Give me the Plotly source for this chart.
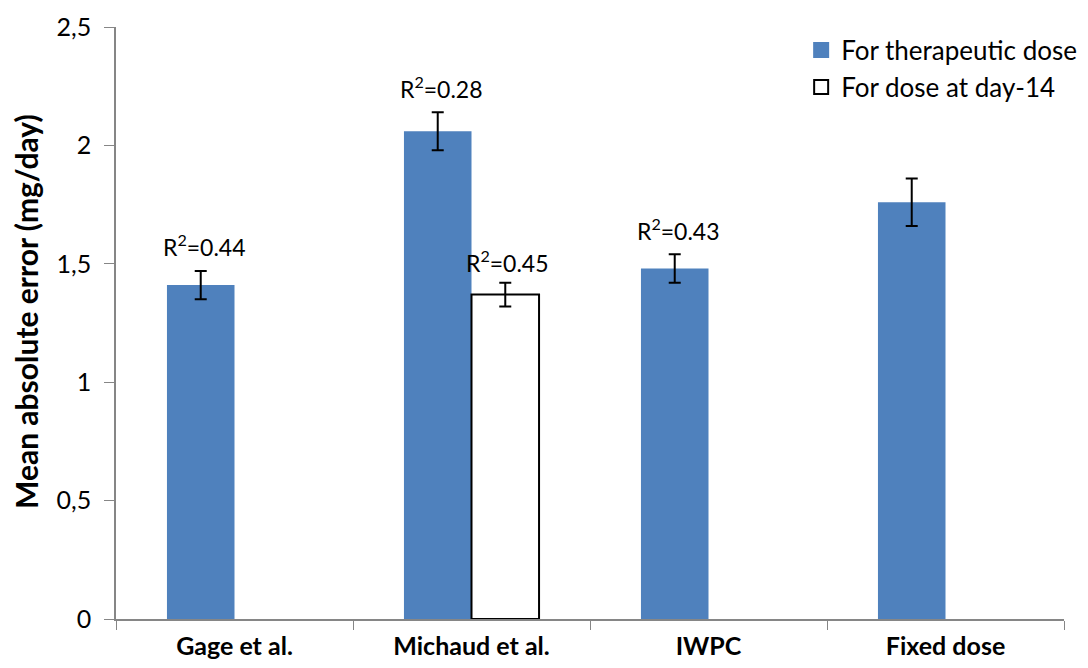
import plotly.graph_objects as go

categories = ["Gage et al.", "Michaud et al.", "IWPC", "Fixed dose"]
therapeutic = [1.41, 2.06, 1.48, 1.76]
therapeutic_err = [0.06, 0.08, 0.06, 0.10]
day14 = [None, 1.37, None, None]
day14_err = [None, 0.05, None, None]
r2_therapeutic = ["R<sup>2</sup>=0.44", "R<sup>2</sup>=0.28", "R<sup>2</sup>=0.43", None]
r2_day14 = [None, "R<sup>2</sup>=0.45", None, None]
series_names = ["For therapeutic dose", "For dose at day-14"]
tick_vals = [0, 0.5, 1, 1.5, 2, 2.5]
tick_text = ["0", "0,5", "1", "1,5", "2", "2,5"]
y_title = "Mean absolute error (mg/day)"

FONT = "Lato"
BLUE = "#4F81BD"

fig = go.Figure()
fig.add_trace(go.Bar(
    name=series_names[0], x=categories, y=therapeutic, showlegend=False,
    marker=dict(color=BLUE, line=dict(width=0)),
    error_y=dict(type="data", array=therapeutic_err, color="black", thickness=2, width=6),
))
fig.add_trace(go.Bar(
    name=series_names[1], x=categories, y=day14, showlegend=False,
    marker=dict(color="white", line=dict(color="black", width=2)),
    error_y=dict(type="data", array=day14_err, color="black", thickness=2, width=6),
))
# legend entries with larger square swatches
fig.add_trace(go.Scatter(
    name=series_names[0], x=[None], y=[None], mode="markers",
    marker=dict(symbol="square", size=16, color=BLUE, line=dict(width=0)),
))
fig.add_trace(go.Scatter(
    name=series_names[1], x=[None], y=[None], mode="markers",
    marker=dict(symbol="square", size=14, color="white", line=dict(color="black", width=2)),
))

for cat, v, e, t in zip(categories, therapeutic, therapeutic_err, r2_therapeutic):
    if t:
        fig.add_annotation(x=cat, y=v + e, text=t, showarrow=False, xshift=-30,
                           yanchor="middle", yshift=25,
                           font=dict(family=FONT, size=23, color="black"))
for cat, v, e, t in zip(categories, day14, day14_err, r2_day14):
    if t:
        fig.add_annotation(x=cat, y=v + e, text=t, showarrow=False, xshift=36,
                           yanchor="middle", yshift=21,
                           font=dict(family=FONT, size=23, color="black"))

# y-axis title as rotated annotation
fig.add_annotation(xref="paper", yref="paper", x=0, y=0.5, text=y_title,
                   textangle=-90, showarrow=False, xanchor="center", yanchor="middle",
                   xshift=-90, yshift=11,
                   font=dict(family=FONT, size=30, color="black", weight="bold"))

fig.update_layout(
    width=1088, height=668,
    margin=dict(l=108, r=32, t=19, b=57, autoexpand=False),
    paper_bgcolor="white", plot_bgcolor="white",
    barmode="group", bargap=0.43, bargroupgap=0,
    font=dict(family=FONT, size=23, color="black"),
    showlegend=True,
    legend=dict(xref="container", yref="container", x=0.729, y=0.972,
                xanchor="left", yanchor="top",
                font=dict(family=FONT, size=26, color="black"),
                bgcolor="rgba(0,0,0,0)", itemwidth=30, tracegroupgap=0),
)
fig.update_xaxes(
    showline=True, linecolor="#868686", linewidth=1.5,
    ticks="outside", tickson="boundaries", ticklen=9, tickcolor="#868686",
    ticklabelstandoff=4,
    tickfont=dict(family=FONT, size=25, color="black", weight="bold"),
    showgrid=False, zeroline=False,
)
fig.update_yaxes(
    range=[0, 2.5], tickvals=tick_vals, ticktext=tick_text,
    showline=True, linecolor="#868686", linewidth=1.5,
    ticks="outside", ticklen=10, tickcolor="#868686",
    ticklabelstandoff=8,
    tickfont=dict(family=FONT, size=25, color="black"),
    showgrid=False, zeroline=False,
)

fig.write_html("out.html")
